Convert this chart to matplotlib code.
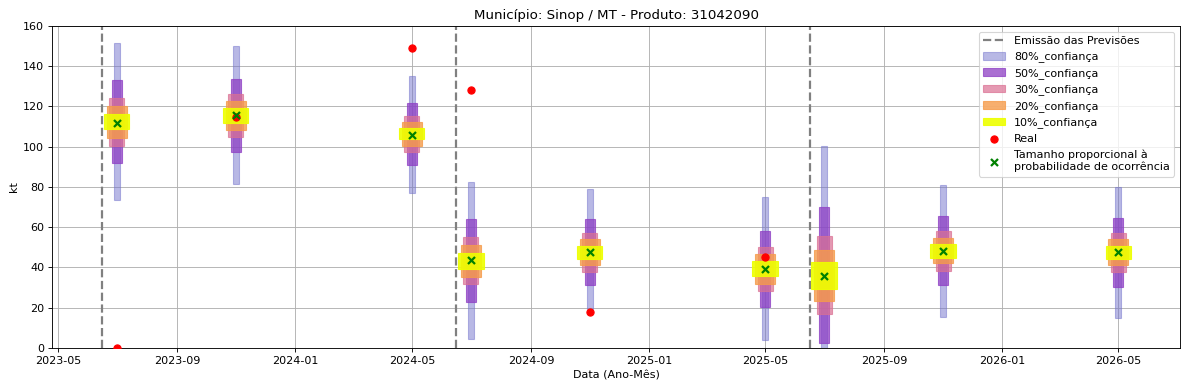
import numpy as np
import pandas as pd
import matplotlib
matplotlib.use('Agg')
import matplotlib.pyplot as plt

# Data
datas = pd.to_datetime(['2023-07-01', '2023-11-01', '2024-05-01',
                        '2024-07-01', '2024-11-01', '2025-05-01',
                        '2025-07-01', '2025-11-01', '2026-05-01'])
emissoes = pd.to_datetime(['2023-06-16', '2024-06-16', '2025-06-16'])

media = [112, 116, 106, 43.5, 47.5, 39.5, 36, 48, 47.5]
real = [0, 115, 149, 128, 18, 45, np.nan, np.nan, np.nan]

# limites (inferior, superior) de cada intervalo
ic80_inf = [73.5, 81.5, 77, 4.5, 19.5, 4, 0, 15.5, 15]
ic80_sup = [151.5, 150, 135, 82.5, 79, 75, 100.5, 81, 80]
ic50_inf = [92, 97.5, 91, 23, 31.3, 20.5, 2.5, 31.3, 30.3]
ic50_sup = [133, 133.5, 121.7, 64, 64, 58, 70, 65.5, 64.5]
ic30_inf = [100.5, 105, 97.5, 32, 37.8, 28.3, 17, 38.3, 37.8]
ic30_sup = [124, 126, 115.3, 55, 57, 50.2, 55.7, 58, 57]
ic20_inf = [104.5, 108.3, 100.5, 35.3, 41.2, 31.8, 23.4, 42.2, 41.2]
ic20_sup = [120, 122.7, 112.3, 51, 54.2, 46.7, 48.7, 54.7, 54.2]
ic10_inf = [108.8, 111.8, 103.8, 39.3, 44.2, 35.8, 29.3, 44.7, 44.2]
ic10_sup = [116.3, 119.3, 109.3, 47.2, 50.7, 43.2, 42.7, 51.7, 50.7]

faixas = [
    ('80%_confiança', ic80_inf, ic80_sup, (0.45, 0.45, 0.8), 0.5, 5.5),
    ('50%_confiança', ic50_inf, ic50_sup, '#8e3fc4', 0.75, 11),
    ('30%_confiança', ic30_inf, ic30_sup, 'palevioletred', 0.7, 15.5),
    ('20%_confiança', ic20_inf, ic20_sup, '#f59b4b', 0.8, 20.5),
    ('10%_confiança', ic10_inf, ic10_sup, '#eeff00', 0.9, 26),
]

fig, ax = plt.subplots(figsize=(14.85, 4.85), dpi=80)
fig.subplots_adjust(left=0.0438, right=0.9933, top=0.933, bottom=0.1031)

handles = []
for i, d in enumerate(emissoes):
    h = ax.axvline(d, color='gray', linestyle='--', linewidth=2, zorder=2)
    if i == 0:
        handles.append((h, 'Emissão das Previsões'))

for nome, inf, sup, cor, a, larg in faixas:
    inf = np.array(inf)
    sup = np.array(sup)
    b = ax.bar(datas, sup - inf, bottom=inf, width=larg, color=cor, alpha=a,
               edgecolor=cor, linewidth=1, zorder=3)
    handles.append((b, nome))

h = ax.scatter(datas, real, color='red', s=42, zorder=5)
handles.append((h, 'Real'))
h = ax.scatter(datas, media, marker='x', color='green', s=40, linewidths=2, zorder=6)
handles.append((h, 'Tamanho proporcional à\nprobabilidade de ocorrência'))

ax.set_xlim(pd.Timestamp('2023-04-25'), pd.Timestamp('2026-07-04'))
ax.set_ylim(0, 160)
ax.set_title('Município: Sinop / MT - Produto: 31042090')
ax.set_xlabel('Data (Ano-Mês)')
ax.set_ylabel('kt')
ax.grid(True, zorder=0)
ax.set_axisbelow(True)
ax.legend([h for h, _ in handles], [l for _, l in handles], loc='upper right')

plt.savefig('out.png')
